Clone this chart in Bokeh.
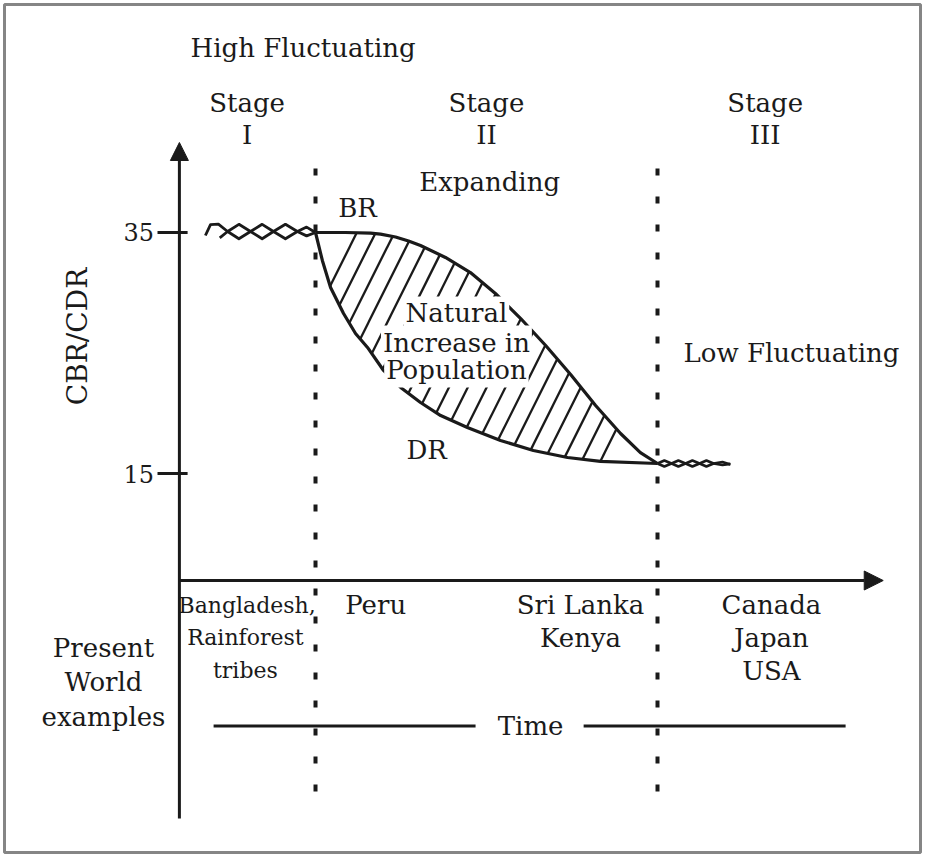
import numpy as np
from bokeh.plotting import figure
from bokeh.models import Range1d, Arrow, NormalHead, Label
from bokeh.core.properties import value
from bokeh.embed import file_html
from bokeh.resources import INLINE

# ---------------- data ----------------
rate_ticks = [15, 35]                      # CBR/CDR tick values
stage_numerals = ["I", "II", "III"]
stage_edges = [0, 4, 14, 20.3]             # time: y-axis, I|II, II|III, end of stage III

# Birth rate (BR) during stage II
br_x = [4.0, 4.88, 5.61, 5.90, 6.34, 6.72, 7.07, 7.80, 8.53, 9.26, 10.0, 10.73, 11.46, 12.19, 12.92, 13.5, 14.0]
br_y = [35.0, 35.0, 34.95, 34.86, 34.63, 34.29, 33.92, 32.93, 31.68, 29.94, 27.86, 25.62, 23.22, 20.64, 18.32, 16.74, 15.83]
# Death rate (DR) during stage II
dr_x = [4.0, 4.20, 4.44, 4.82, 5.17, 5.52, 5.99, 6.49, 7.07, 7.66, 8.44, 9.41, 10.37, 11.37, 12.33, 14.0]
dr_y = [35.0, 32.68, 30.44, 28.28, 26.62, 25.46, 23.55, 22.14, 20.89, 19.81, 18.82, 17.74, 16.91, 16.33, 16.0, 15.83]

# Stage I : high fluctuating rates (two intertwined strands)
high_a_x = [0.78, 0.93, 1.16, 1.43, 1.76, 2.10, 2.44, 2.77, 3.12, 3.47, 3.74, 4.0]
high_a_y = [34.75, 35.65, 35.7, 35.08, 34.48, 35.08, 35.68, 35.08, 34.48, 35.08, 35.45, 35.0]
high_b_x = [1.2, 1.43, 1.76, 2.10, 2.44, 2.77, 3.12, 3.47, 3.74, 4.0]
high_b_y = [34.55, 35.08, 35.68, 35.08, 34.48, 35.08, 35.68, 35.08, 34.72, 35.0]

# Stage III : low fluctuating rates
low_x = [14.0, 14.2, 14.41, 14.61, 14.82, 15.02, 15.23, 15.43, 15.64, 15.9, 16.13]
low_a_y = [15.83, 16.08, 15.83, 15.58, 15.83, 16.08, 15.83, 15.58, 15.83, 15.95, 15.75]
low_b_y = [15.83, 15.58, 15.83, 16.08, 15.83, 15.58, 15.83, 16.08, 15.83, 15.7, 15.8]

# ---------------- figure ----------------
INK = "#1a1a1a"
FONT = "DejaVu Serif"

p = figure(width=924, height=854, output_backend="svg", toolbar_location=None,
           x_range=Range1d(-5.094, 21.690), y_range=Range1d(-16.452, 53.921),
           x_axis_location=None, y_axis_location=None,
           min_border_left=4, min_border_right=4, min_border_top=4, min_border_bottom=2,
           background_fill_color="white", border_fill_color="white")
p.grid.visible = False
p.outline_line_color = "#858585"
p.outline_line_width = 3

# axes with arrows
x_axis_y = 6.12
p.add_layout(Arrow(end=NormalHead(size=18, fill_color=INK, line_color=INK, line_width=1),
                   x_start=0.02, y_start=-13.63, x_end=0.02, y_end=42.47,
                   line_color=INK, line_width=3))
p.add_layout(Arrow(end=NormalHead(size=19, fill_color=INK, line_color=INK, line_width=1),
                   x_start=0.02, y_start=x_axis_y, x_end=20.6, y_end=x_axis_y,
                   line_color=INK, line_width=3))

# y ticks and labels
p.segment(x0=[-0.62] * len(rate_ticks), x1=[0.26] * len(rate_ticks),
          y0=rate_ticks, y1=rate_ticks, line_color=INK, line_width=3)
p.text(x=[-0.72] * len(rate_ticks), y=rate_ticks, text=[str(t) for t in rate_ticks],
       text_align="right", text_baseline="middle", text_font=value(FONT),
       text_font_size="24px", text_color=INK)

# dotted stage boundaries
bx = stage_edges[1:3]
p.segment(x0=bx, x1=bx, y0=[40.31] * 2, y1=[-13.13] * 2,
          line_color=INK, line_width=4, line_dash="7 21")

# hatching between BR and DR (natural increase)
xs = np.linspace(br_x[0], br_x[-1], 6000)
upper = np.interp(xs, br_x, br_y)
lower = np.interp(xs, dr_x, dr_y)
k = 0.176
hx0, hy0, hx1, hy1 = [], [], [], []
for c in 1.69 + 0.5505 * np.arange(20):
    yl = 15 + (xs - c) / k
    idx = np.nonzero((yl >= lower) & (yl <= upper))[0]
    if len(idx) < 2:
        continue
    hx0.append(xs[idx[0]]); hy0.append(yl[idx[0]])
    hx1.append(xs[idx[-1]]); hy1.append(yl[idx[-1]])
p.segment(x0=hx0, y0=hy0, x1=hx1, y1=hy1, line_color=INK, line_width=2.3)

# curves
p.line(br_x, br_y, line_color=INK, line_width=3.2, line_join="round")
p.line(dr_x, dr_y, line_color=INK, line_width=3.2, line_join="round")

# fluctuating rates
p.line(high_a_x, high_a_y, line_color=INK, line_width=2.8, line_join="round")
p.line(high_b_x, high_b_y, line_color=INK, line_width=2.8, line_join="round")
p.line(low_x, low_a_y, line_color=INK, line_width=2.6, line_join="round")
p.line(low_x, low_b_y, line_color=INK, line_width=2.6, line_join="round")

# time line
p.segment(x0=[1.02, 11.84], x1=[8.68, 19.5], y0=[-5.95] * 2, y1=[-5.95] * 2,
          line_color=INK, line_width=3)

# stage headings
centres = [(stage_edges[i] + stage_edges[i + 1]) / 2 for i in range(3)]
p.text(x=centres, y=[45.71] * 3, text=["Stage"] * 3, text_align="center",
       text_baseline="middle", text_font=value(FONT), text_font_size="26px", text_color=INK)
p.text(x=centres, y=[43.05] * 3, text=stage_numerals, text_align="center",
       text_baseline="middle", text_font=value(FONT), text_font_size="26px", text_color=INK)


def lab(text, x, y, align="center", size="26px", bg=None, angle=0):
    kw = {}
    if bg:
        kw = dict(background_fill_color=bg, padding=2)
    p.add_layout(Label(x=x, y=y, text=text, text_align=align, text_baseline="middle",
                       text_font=FONT, text_font_size=size, text_color=INK,
                       angle=angle, **kw))


lab("High Fluctuating", 0.345, 50.27, align="left")
lab("Expanding", 9.09, 39.15)
lab("BR", 5.23, 37.07)
lab("Natural", 8.12, 28.28, bg="white")
lab("Increase in", 8.12, 25.87, bg="white")
lab("Population", 8.12, 23.55, bg="white")
lab("DR", 7.25, 16.91)
lab("Low Fluctuating", 14.76, 24.96, align="left")
lab("CBR/CDR", -2.96, 26.37, size="28px", angle=np.pi / 2)

# present world examples
lab("Bangladesh,", 2.0, 4.05, size="22px")
lab("Rainforest", 1.95, 1.39, size="22px")
lab("tribes", 1.95, -1.35, size="22px")
lab("Peru", 5.76, 4.05)
lab("Sri Lanka", 11.75, 4.05)
lab("Kenya", 11.75, 1.39)
lab("Canada", 17.33, 4.05)
lab("Japan", 17.33, 1.39)
lab("USA", 17.33, -1.35)
lab("Present", -2.2, 0.48)
lab("World", -2.2, -2.34)
lab("examples", -2.2, -5.17)
lab("Time", 10.29, -5.95)

open("out.html", "w").write(file_html(p, INLINE))
